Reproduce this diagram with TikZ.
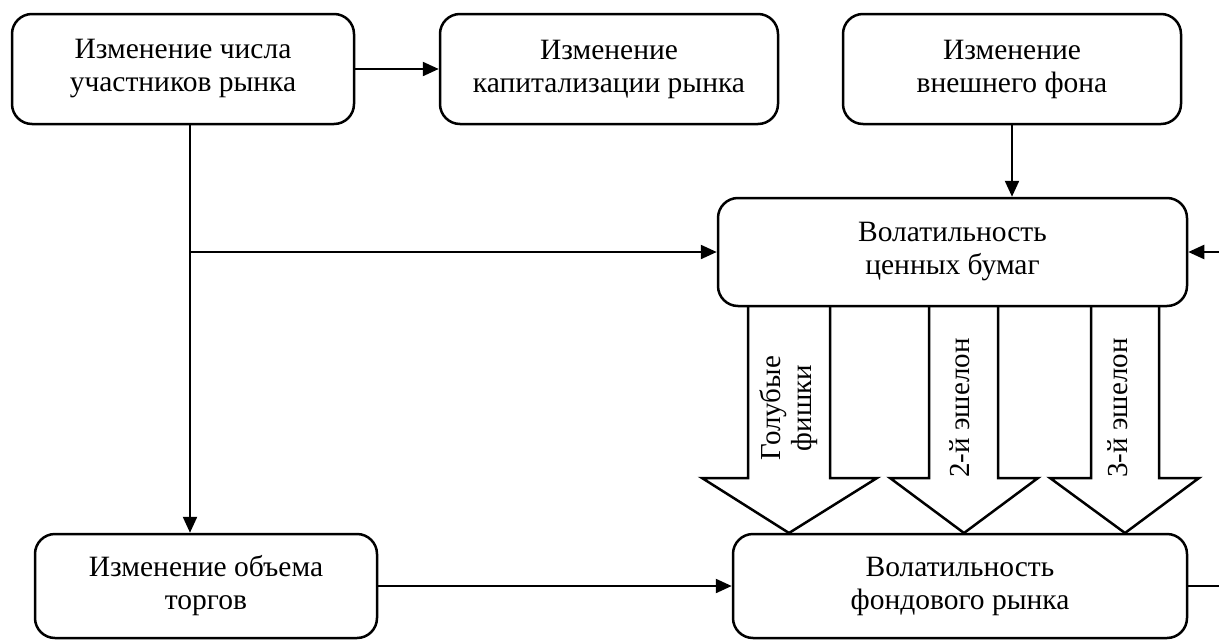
\documentclass[tikz,border=0pt]{standalone}
\usepackage{fontspec}
\setmainfont{Liberation Serif}
\usetikzlibrary{arrows.meta}
\begin{document}
\begin{tikzpicture}[x=1pt,y=-1pt,
 box/.style={draw, line width=2.5pt, rounded corners=20pt, align=center, font=\fontsize{29.5}{33}\selectfont, inner sep=0pt},
 conn/.style={line width=2.3pt, -{Triangle[length=16pt,width=14pt]}},
 plain/.style={line width=2.3pt},
 blk/.style={draw, line width=2.5pt, fill=white, line join=miter},
 lbl/.style={rotate=90, align=center, inner sep=0pt, font=\fontsize{29}{31}\selectfont}]
\useasboundingbox (0,0) rectangle (1219,640);
% block arrows
\path[blk] (748,306) -- (748,478) -- (702,478) -- (789,533) -- (877,478) -- (830,478) -- (830,306);
\path[blk] (929,306) -- (929,478) -- (890,478) -- (964,533) -- (1038,478) -- (998,478) -- (998,306);
\path[blk] (1091,306) -- (1091,478) -- (1050,478) -- (1125,533) -- (1199,478) -- (1159,478) -- (1159,306);
\node[lbl] (l1) at (789,408) {Голубые\\фишки};
\node[lbl] (l2) at (960,408) {2-й эшелон};
\node[lbl] (l3) at (1118,408) {3-й эшелон};
% boxes
\node[box, minimum width=342pt, minimum height=110pt] (b1) at (183,69) {Изменение числа\\участников рынка};
\node[box, minimum width=338pt, minimum height=110pt] (b2) at (609,69) {Изменение\\капитализации рынка};
\node[box, minimum width=338pt, minimum height=110pt] (b3) at (1012,69) {Изменение\\внешнего фона};
\node[box, minimum width=469pt, minimum height=108pt] (b4) at (952.5,252) {Волатильность\\ценных бумаг};
\node[box, minimum width=342pt, minimum height=104pt] (b5) at (206,586) {Изменение объема\\торгов};
\node[box, minimum width=454pt, minimum height=104pt] (b6) at (960,586) {Волатильность\\фондового рынка};
% connectors
\coordinate (v) at (190,0);
\coordinate (j) at (190,252);
\coordinate (o) at (1219,588);
\coordinate (i) at (1219,252);
\draw[conn] (b1.east) -- (b2.west);
\draw[conn] (b3.south) -- (b3.south |- b4.north);
\draw[conn] (b1.south -| v) -- (b5.north -| v);
\draw[conn] (j) -- (b4.west);
\draw[conn] (b5.east) -- (b6.west);
\draw[conn] (i) -- (b4.east);
\draw[plain] (b6.east) -- (b6.east -| o);
\end{tikzpicture}
\end{document}
